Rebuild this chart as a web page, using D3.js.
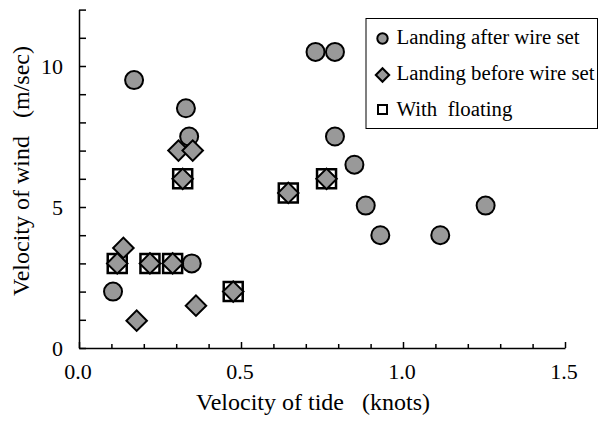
<!DOCTYPE html>
<head>
<meta charset="utf-8">
<style>
    body { margin: 0; background: #fff; }
    svg text { font-family: "Liberation Serif", Tinos, "Times New Roman", "DejaVu Serif", serif; fill: #000; }
    .axis path, .axis line { stroke: #000; stroke-width: 1.5px; fill: none; }
    .title { white-space: pre; }
    .after { fill: #999; stroke: #000; stroke-width: 2px; }
    .before { fill: #999; stroke: #000; stroke-width: 2px; }
    .floating { fill: none; stroke: #000; stroke-width: 2.5px; }
</style>
<title>Velocity of tide vs wind</title>
</head>

<body>
    <script src="https://d3js.org/d3.v7.min.js"></script>
    <script>
        // landing after wire set  [tide knots, wind m/sec]
        const afterTide = [0.105, 0.17, 0.33, 0.34, 0.348, 0.73, 0.79, 0.79, 0.85, 0.885, 0.93, 1.115, 1.255];
        const afterWind = [2.0, 9.5, 8.5, 7.5, 3.0, 10.5, 10.5, 7.5, 6.5, 5.05, 4.0, 4.0, 5.05];

        // landing before wire set
        const beforeTide = [0.118, 0.137, 0.178, 0.219, 0.289, 0.307, 0.32, 0.351, 0.361, 0.476, 0.646, 0.764];
        const beforeWind = [3.0, 3.55, 0.97, 3.0, 3.0, 7.0, 6.0, 7.0, 1.5, 2.0, 5.5, 6.0];

        // with floating
        const floatTide = [0.118, 0.219, 0.289, 0.32, 0.476, 0.646, 0.764];
        const floatWind = [3.0, 3.0, 3.0, 6.0, 2.0, 5.5, 6.0];

        const xTicks = d3.range(0, 1.51, 0.1);
        const xLabels = [0, 0.5, 1.0, 1.5];
        const yTicks = d3.range(0, 13, 1);
        const yLabels = [0, 5, 10];

        const legendNames = ['Landing after wire set', 'Landing before wire set', 'With  floating'];

        const margin = { top: 9.6, right: 34, bottom: 73, left: 79 };
        const width = 599 - margin.left - margin.right;
        const height = 421 - margin.top - margin.bottom;

        const x = d3.scaleLinear().domain([0, 1.5]).range([0, width]);
        const y = d3.scaleLinear().domain([0, 12]).range([height, 0]);

        const svg = d3.select('body').append('svg')
            .attr('width', 599)
            .attr('height', 421);

        const group = svg.append('g')
            .attr('transform', `translate(${margin.left},${margin.top})`);

        // x axis, ticks pointing inward
        const xAxis = group.append('g')
            .attr('class', 'axis')
            .attr('transform', `translate(0,${height})`)
            .call(d3.axisTop(x).tickValues(xTicks).tickSize(4).tickSizeOuter(0).tickFormat(''));
        xAxis.selectAll('.tick line')
            .attr('y2', d => (xLabels.some(v => Math.abs(v - d) < 1e-6) ? -6 : -4));

        group.selectAll('.xlabel')
            .data(xLabels)
            .enter().append('text')
            .attr('class', 'xlabel')
            .attr('x', d => x(d) - 1)
            .attr('y', height + 31)
            .attr('text-anchor', 'middle')
            .attr('font-size', '22px')
            .text(d => d.toFixed(1));

        // y axis
        group.append('g')
            .attr('class', 'axis')
            .call(d3.axisRight(y).tickValues(yTicks).tickSize(7).tickSizeOuter(0).tickFormat(''));

        group.selectAll('.ylabel')
            .data(yLabels)
            .enter().append('text')
            .attr('class', 'ylabel')
            .attr('x', -16)
            .attr('y', d => y(d))
            .attr('dy', '0.35em')
            .attr('text-anchor', 'end')
            .attr('font-size', '22px')
            .text(d => d);

        // axis titles
        svg.append('text')
            .attr('class', 'title')
            .attr('x', 313)
            .attr('y', 410)
            .attr('text-anchor', 'middle')
            .attr('font-size', '24px')
            .text('Velocity of tide   (knots)');

        svg.append('text')
            .attr('class', 'title')
            .attr('transform', 'translate(29,171) rotate(-90)')
            .attr('text-anchor', 'middle')
            .attr('font-size', '24px')
            .text('Velocity of wind   (m/sec)');

        // points
        group.selectAll('.after')
            .data(d3.zip(afterTide, afterWind))
            .enter().append('circle')
            .attr('class', 'after')
            .attr('cx', d => x(d[0]))
            .attr('cy', d => y(d[1]))
            .attr('r', 9);

        const sq = d3.symbol().type(d3.symbolSquare).size(19 * 19);
        group.selectAll('.floating')
            .data(d3.zip(floatTide, floatWind))
            .enter().append('path')
            .attr('class', 'floating')
            .attr('d', sq)
            .attr('transform', d => `translate(${x(d[0])},${y(d[1])})`);

        const dia = d3.symbol().type(d3.symbolSquare).size(14.5 * 14.5);
        group.selectAll('.before')
            .data(d3.zip(beforeTide, beforeWind))
            .enter().append('path')
            .attr('class', 'before')
            .attr('d', dia)
            .attr('transform', d => `translate(${x(d[0])},${y(d[1])}) rotate(45)`);

        // legend
        const legend = svg.append('g');
        legend.append('rect')
            .attr('x', 366)
            .attr('y', 18.5)
            .attr('width', 231.5)
            .attr('height', 110)
            .attr('fill', '#fff')
            .attr('stroke', '#000')
            .attr('stroke-width', 1);

        legend.append('circle')
            .attr('class', 'after')
            .attr('cx', 382.5)
            .attr('cy', 38.5)
            .attr('r', 5.2);
        legend.append('path')
            .attr('class', 'before')
            .attr('d', d3.symbol().type(d3.symbolSquare).size(9.5 * 9.5))
            .attr('transform', 'translate(382.5,75) rotate(45)');
        legend.append('path')
            .attr('class', 'floating')
            .attr('d', d3.symbol().type(d3.symbolSquare).size(9 * 9))
            .attr('transform', 'translate(382.5,109.5)')
            .style('stroke-width', '2px');

        legend.selectAll('.ltext')
            .data(legendNames)
            .enter().append('text')
            .attr('class', 'ltext title')
            .attr('x', 396.5)
            .attr('y', (d, i) => 44 + i * 36)
            .attr('font-size', '20.8px')
            .text(d => d);
    </script>
</body>
